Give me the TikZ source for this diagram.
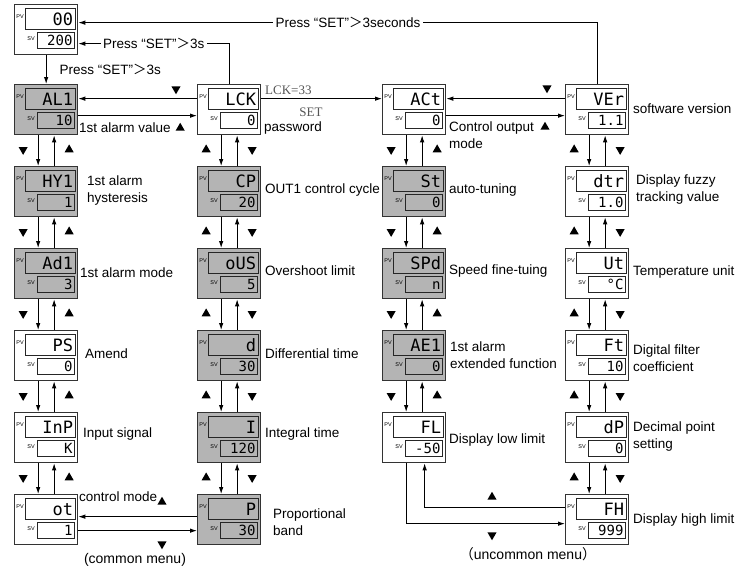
\documentclass[tikz,border=0pt]{standalone}
\usepackage{fontspec}
\setmainfont{Liberation Sans}
\newfontfamily\segfont{DejaVu Sans Mono}
\newfontfamily\serifnote{Liberation Serif}
\newfontfamily\cjkfont{Noto Sans CJK SC}
\usetikzlibrary{arrows.meta, positioning, shapes.geometric, calc}
\definecolor{panelgray}{RGB}{180,180,180}
\definecolor{notegray}{RGB}{85,85,85}
\newcommand{\pressset}[1]{Press~“SET”{\cjkfont ＞}#1}

\begin{document}
\begin{tikzpicture}[x=1pt, y=-1pt,
    panel/.style={draw=black!80, line width=1.3pt, minimum width=63pt, minimum height=50pt, inner sep=0pt, anchor=north west},
    pvwin/.style={draw=black!85, line width=1pt, anchor=north west, inner xsep=2.5pt, inner ysep=0pt, text width=45pt, minimum height=21pt, align=right, font=\segfont\fontsize{17}{17}\selectfont},
    svwin/.style={draw=black!85, line width=1pt, anchor=north west, inner xsep=2pt, inner ysep=0pt, text width=33pt, minimum height=16pt, align=right, font=\segfont\fontsize{14}{14}\selectfont},
    tag/.style={inner sep=0pt, font=\fontsize{5.5}{5.5}\selectfont},
    lbl/.style={anchor=west, inner sep=0pt, align=left, font=\fontsize{13.5}{17}\selectfont},
    link/.style={line width=0.9pt, -{Latex[length=7pt, width=4.5pt]}},
    triup/.style={regular polygon, regular polygon sides=3, fill=black, inner sep=0pt, minimum size=10.5pt},
    tridown/.style={triup, shape border rotate=180},
  ]
  \useasboundingbox (0,0) rectangle (746,570);

  % display panels: name/x/y/pv/sv/fill
  \foreach \nm/\x/\y/\pv/\sv/\sh in {
      home/14/4/00/200/white,
      AL/14/84/AL1/10/panelgray, HY/14/166/HY1/1/panelgray, Ad/14/248/Ad1/3/panelgray,
      PS/14/330/PS/0/white, InP/14/412/InP/K/white, ot/14/494/ot/1/white,
      LCK/197/84/LCK/0/white, CP/197/166/CP/20/panelgray, oUS/197/248/oUS/5/panelgray,
      D/197/330/d/30/panelgray, I/197/412/I/120/panelgray, P/197/494/P/30/panelgray,
      ACt/382/84/ACt/0/white, St/382/166/St/0/panelgray, SPd/382/248/SPd/n/panelgray,
      AE/382/330/AE1/0/panelgray, FL/382/412/FL/-50/white,
      VEr/565/84/VEr/1.1/white, dtr/565/166/dtr/1.0/white, Ut/565/248/Ut/°C/white,
      Ft/565/330/Ft/10/white, dP/565/412/dP/0/white, FH/565/494/FH/999/white} {
    \node[panel, fill=\sh] (\nm) at (\x,\y) {};
    \node[pvwin, fill=\sh] (\nm-pv) at ([shift={(11,4)}]\nm.north west) {\vphantom{0}\pv};
    \node[svwin, fill=\sh] (\nm-sv) at ([shift={(23,28)}]\nm.north west) {\vphantom{0}\sv};
    \node[tag] (\nm-pvtag) at ([shift={(6,13)}]\nm.north west) {PV};
    \node[tag] (\nm-svtag) at ([shift={(17,35)}]\nm.north west) {SV};
  }

  % down/up links inside each column, marks rotated 180 = down
  \foreach \a/\b/\lr/\rr in {AL/HY/180/0, HY/Ad/180/0, Ad/PS/180/0, PS/InP/180/0, InP/ot/180/0,
      LCK/CP/0/180, CP/oUS/0/180, oUS/D/0/180, D/I/0/180, I/P/0/180,
      ACt/St/180/0, St/SPd/180/0, SPd/AE/180/0, AE/FL/180/0,
      VEr/dtr/0/180, dtr/Ut/0/180, Ut/Ft/0/180, Ft/dP/0/180, dP/FH/0/180} {
    \draw[link] ([xshift=-8pt]\a.south) -- ([xshift=-8pt]\b.north);
    \draw[link] ([xshift=8pt]\b.north) -- ([xshift=8pt]\a.south);
    \node[triup, shape border rotate=\lr] (\a-\b-l) at ($(\a.south)!0.5!(\b.north)+(-23,-1)$) {};
    \node[triup, shape border rotate=\rr] (\a-\b-r) at ($(\a.south)!0.5!(\b.north)+(23,-1)$) {};
  }

  % links between the columns
  \draw[link] ([yshift=11pt]LCK.west) -- ([yshift=11pt]AL.east);
  \draw[link] ([yshift=-6pt]AL.east) -- ([yshift=-6pt]LCK.west);
  \draw[link] ([yshift=11pt]LCK.east) -- ([yshift=11pt]ACt.west);
  \draw[link] ([yshift=11pt]VEr.west) -- ([yshift=11pt]ACt.east);
  \draw[link] ([yshift=-6pt]ACt.east) -- ([yshift=-6pt]VEr.west);
  \draw[link] ([yshift=3pt]P.west) -- ([yshift=3pt]ot.east);
  \draw[link] ([yshift=-11pt]ot.east) -- ([yshift=-11pt]P.west);
  \draw[link] ([xshift=-7.5pt]FL.south) |- ([yshift=-4pt]FH.west);
  \draw[link] ([yshift=12pt]FH.west) -| ([xshift=10.5pt]FL.south);

  % back to the home display
  \draw[link] (home) -- (AL) node[midway, lbl, xshift=13pt] (homelbl) {\pressset{3s}};
  \draw[link] (LCK.north) |- ([yshift=-14pt]home.east)
    node[pos=0.75, fill=white, inner sep=2.5pt, font=\fontsize{13.5}{13.5}\selectfont] (lcklbl) {\pressset{3s}};
  \draw[link] (VEr.north) |- ([yshift=7pt]home.east)
    node[pos=0.74, fill=white, inner sep=2.5pt, font=\fontsize{13.5}{13.5}\selectfont] (verlbl) {\pressset{3seconds}};
  \node[lbl, font=\serifnote\fontsize{13}{13}\selectfont, text=notegray] (lckval) at (265,90) {LCK=33};
  \node[inner sep=0pt, font=\serifnote\fontsize{13}{13}\selectfont, text=notegray] (setkey) at (311,112) {SET};

  % marks on the cross links
  \node[tridown] (AL-LCK-dn) at (176,89) {};
  \node[tridown] (ACt-VEr-dn) at (547,88) {};
  \node[triup] (ACt-VEr-up) at (545,127) {};
  \node[triup] (ot-P-up) at (162,502) {};
  \node[tridown] (ot-P-dn) at (162,544) {};
  \node[triup] (FL-FH-up) at (492,497) {};
  \node[tridown] (FL-FH-dn) at (492,535) {};

  % parameter names
  \node[lbl] (AL-lbl) at (79,128) {1st alarm value};
  \node[triup, right=6pt of AL-lbl] (AL-mk) {};
  \node[lbl] (HY-lbl) at (87,191) {1st alarm\\hysteresis};
  \node[lbl] (Ad-lbl) at (80,273) {1st alarm mode};
  \node[lbl] (PS-lbl) at (85,354) {Amend};
  \node[lbl] (InP-lbl) at (83,434) {Input signal};
  \node[lbl] (ot-lbl) at (79,497) {control mode};
  \node[lbl] (LCK-lbl) at (264,128) {password};
  \node[lbl] (CP-lbl) at (265,190) {OUT1 control cycle};
  \node[lbl] (oUS-lbl) at (265,271) {Overshoot limit};
  \node[lbl] (D-lbl) at (265,354) {Differential time};
  \node[lbl] (I-lbl) at (265,434) {Integral time};
  \node[lbl] (P-lbl) at (273,522) {Proportional\\band};
  \node[lbl] (ACt-lbl) at (449,135) {Control output\\mode};
  \node[lbl] (St-lbl) at (449,190) {auto-tuning};
  \node[lbl] (SPd-lbl) at (449,271) {Speed fine-tuing};
  \node[lbl] (AE-lbl) at (450,355) {1st alarm\\extended function};
  \node[lbl] (FL-lbl) at (449,440) {Display low limit};
  \node[lbl] (VEr-lbl) at (633,109) {software version};
  \node[lbl] (dtr-lbl) at (636,190) {Display fuzzy\\tracking value};
  \node[lbl] (Ut-lbl) at (633,272) {Temperature unit};
  \node[lbl] (Ft-lbl) at (633,358) {Digital filter\\coefficient};
  \node[lbl] (dP-lbl) at (633,437) {Decimal point\\setting};
  \node[lbl] (FH-lbl) at (633,520) {Display high limit};

  \node[inner sep=0pt, font=\fontsize{14}{14}\selectfont] (common) at (135,560) {(common menu)};
  \node[inner sep=0pt, font=\fontsize{14}{14}\selectfont] (uncommon) at (528,554) {{\cjkfont （}uncommon menu{\cjkfont ）}};
\end{tikzpicture}
\end{document}
